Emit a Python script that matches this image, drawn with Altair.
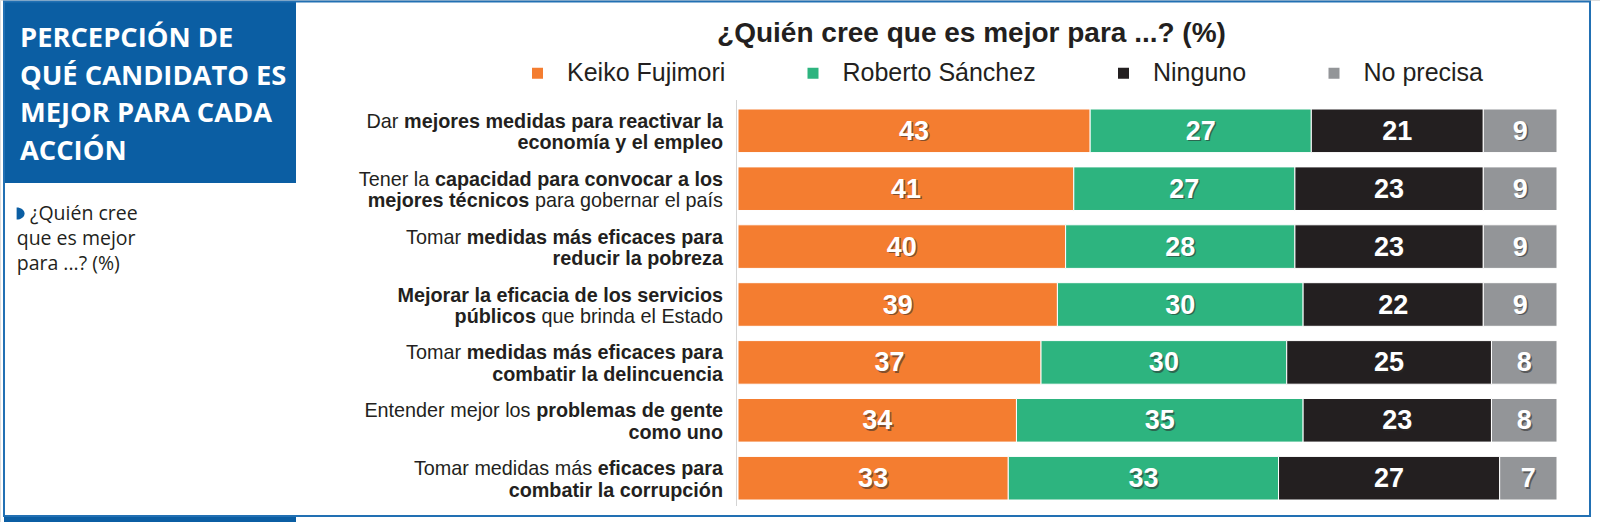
import altair as alt
import pandas as pd

# ---------------- data ----------------
series = ["Keiko Fujimori", "Roberto Sánchez", "Ninguno", "No precisa"]
colors = ["#F47D30", "#2DB47F", "#231F20", "#939598"]

categories = ["economia", "tecnicos", "pobreza", "servicios", "delincuencia", "gente", "corrupcion"]
label_line1 = [
    "Dar **mejores medidas para reactivar la**",
    "Tener la **capacidad para convocar a los**",
    "Tomar **medidas más eficaces para**",
    "**Mejorar la eficacia de los servicios**",
    "Tomar **medidas más eficaces para**",
    "Entender mejor los **problemas de gente**",
    "Tomar medidas más **eficaces para**",
]
label_line2 = [
    "**economía y el empleo**",
    "**mejores técnicos** para gobernar el país",
    "**reducir la pobreza**",
    "**públicos** que brinda el Estado",
    "**combatir la delincuencia**",
    "**como uno**",
    "**combatir la corrupción**",
]
keiko = [43, 41, 40, 39, 37, 34, 33]
sanchez = [27, 27, 28, 30, 30, 35, 33]
ninguno = [21, 23, 23, 22, 25, 23, 27]
no_precisa = [9, 9, 9, 9, 8, 8, 7]

panel_title = ["PERCEPCIÓN DE", "QUÉ CANDIDATO ES", "MEJOR PARA CADA", "ACCIÓN"]
panel_sub_first = "¿Quién cree"
panel_sub_rest = ["que es mejor", "para ...? (%)"]
chart_title = "¿Quién cree que es mejor para ...? (%)"

# ---------------- styles ----------------
BLUE = "#0B5EA3"
BORDER = "#2270B3"
TEXT = "#231F20"
LABEL_FONT = "Liberation Sans"
LABEL_SIZE = 19.8
LABEL_RIGHT = 723

# Helvetica / Arial advance widths (1/1000 em) for mixed-weight label layout
_lower = "abcdefghijklmnopqrstuvwxyz"
W_REG = dict(zip(_lower, [556, 556, 500, 556, 556, 278, 556, 556, 222, 222, 500, 222, 833,
                          556, 556, 556, 556, 333, 500, 278, 556, 500, 722, 500, 500, 500]))
W_BOLD = dict(zip(_lower, [556, 611, 556, 611, 556, 333, 611, 611, 278, 278, 556, 278, 889,
                           611, 611, 611, 611, 389, 556, 333, 611, 556, 778, 556, 556, 500]))
for d in (W_REG, W_BOLD):
    d.update({" ": 278, "D": 722, "E": 667, "M": 833, "T": 611, "á": 556, "é": 556, "í": 278})
W_REG.update({"ó": 556, "ú": 556})
W_BOLD.update({"ó": 611, "ú": 611})


def char_w(ch, bold):
    d = W_BOLD if bold else W_REG
    return d.get(ch, 556) * LABEL_SIZE / 1000.0


def layout_line(cat, line_no, text):
    parts = text.split("**")
    chars = []
    for i, p in enumerate(parts):
        for ch in p:
            chars.append((ch, i % 2 == 1))
    rows = []
    idx = 0
    for i, p in enumerate(parts):
        start, end = idx, idx + len(p)
        idx = end
        piece = p.strip()
        if not piece:
            continue
        trail = len(p) - len(p.rstrip())
        vis_end = end - trail
        after = sum(char_w(c, b) for c, b in chars[vis_end:])
        rows.append({"cat": cat, "line": line_no, "bold": i % 2 == 1,
                     "text": piece, "xr": LABEL_RIGHT - after})
    return rows


label_rows = []
for c, l1, l2 in zip(categories, label_line1, label_line2):
    label_rows += layout_line(c, 1, l1)
    label_rows += layout_line(c, 2, l2)
labels_df = pd.DataFrame(label_rows)

bar_rows = []
for i, c in enumerate(categories):
    for j, (s, vals) in enumerate(zip(series, [keiko, sanchez, ninguno, no_precisa])):
        bar_rows.append({"cat": c, "series": s, "value": vals[i], "order": j})
bars_df = pd.DataFrame(bar_rows)

one = pd.DataFrame({"k": [0]})

xscale = alt.Scale(domain=[0, 100], range=[738, 1557], nice=False, zero=False)
yscale = alt.Scale(domain=categories, range=[109, 500], paddingInner=0.247, paddingOuter=0)

# ---------------- decorations ----------------
panel_box = alt.Chart(one).mark_rect(color=BLUE).encode(
    x=alt.value(4), x2=alt.value(296), y=alt.value(2), y2=alt.value(183))
bottom_strip = alt.Chart(one).mark_rect(color=BLUE).encode(
    x=alt.value(4), x2=alt.value(296), y=alt.value(515), y2=alt.value(522))
border = alt.Chart(one).mark_rect(fillOpacity=0, stroke=BORDER, strokeWidth=2).encode(
    x=alt.value(4), x2=alt.value(1590), y=alt.value(1.5), y2=alt.value(516))
axis_line = alt.Chart(one).mark_rule(color="#D4D4D4", strokeWidth=1).encode(
    x=alt.value(736.5), y=alt.value(100), y2=alt.value(506))

panel_title_t = alt.Chart(one).mark_text(
    align="left", baseline="alphabetic", font="Open Sans", fontWeight="bold",
    fontSize=27.3, color="white", lineHeight=37.5
).encode(x=alt.value(20), y=alt.value(47), text=alt.value(panel_title))

marker = alt.Chart(one).mark_point(
    shape="M-0.65,-1 A1.3,1 0 0 1 -0.65,1 Z", filled=True, size=150, color=BLUE, opacity=1
).encode(x=alt.value(20.6), y=alt.value(213.5))

sub1 = alt.Chart(one).mark_text(
    align="left", baseline="alphabetic", font="Open Sans", fontSize=19.5, color=TEXT
).encode(x=alt.value(30), y=alt.value(219.5), text=alt.value(panel_sub_first))
sub2 = alt.Chart(one).mark_text(
    align="left", baseline="alphabetic", font="Open Sans", fontSize=19.5, color=TEXT, lineHeight=25.4
).encode(x=alt.value(16.7), y=alt.value(245), text=alt.value(panel_sub_rest))

title_t = alt.Chart(one).mark_text(
    align="center", baseline="alphabetic", font=LABEL_FONT, fontWeight="bold",
    fontSize=28, color=TEXT
).encode(x=alt.value(971.5), y=alt.value(42.3), text=alt.value(chart_title))

# ---------------- bars ----------------
stacked = alt.Chart(bars_df).transform_stack(
    stack="value", as_=["x0", "x1"], groupby=["cat"],
    sort=[alt.SortField("order", order="ascending")]
).transform_calculate(mid="(datum.x0 + datum.x1) / 2")

bars = stacked.mark_bar(stroke="white", strokeWidth=1).encode(
    x=alt.X("x0:Q", scale=xscale, axis=None),
    x2="x1:Q",
    y=alt.Y("cat:N", scale=yscale, axis=None),
    color=alt.Color(
        "series:N",
        scale=alt.Scale(domain=series, range=colors),
        legend=alt.Legend(
            title=None, orient="none", legendX=525, legendY=60.5,
            direction="horizontal", columns=4, symbolType="square",
            symbolSize=121, symbolStrokeWidth=0, labelFont=LABEL_FONT,
            labelFontSize=25, labelColor=TEXT, labelOffset=17,
            columnPadding=74.5, labelLimit=400, padding=0,
        ),
    ),
    order=alt.Order("order:Q"),
)

num_shadow = stacked.mark_text(
    font=LABEL_FONT, fontWeight="bold", fontSize=27, color="#2a2a2a", opacity=0.55,
    baseline="middle", align="center", dx=1.5, dy=2.5
).encode(
    x=alt.X("mid:Q", scale=xscale, axis=None),
    y=alt.Y("cat:N", scale=yscale, axis=None),
    text="value:Q",
)
nums = stacked.mark_text(
    font=LABEL_FONT, fontWeight="bold", fontSize=27, color="white",
    baseline="middle", align="center", dy=1
).encode(
    x=alt.X("mid:Q", scale=xscale, axis=None),
    y=alt.Y("cat:N", scale=yscale, axis=None),
    text="value:Q",
)

# ---------------- row labels (mixed weight) ----------------
label_layers = []
for line_no, dy in [(1, -3), (2, 18.7)]:
    for bold in (False, True):
        sub = labels_df[(labels_df["line"] == line_no) & (labels_df["bold"] == bold)]
        if sub.empty:
            continue
        label_layers.append(
            alt.Chart(sub).mark_text(
                align="right", baseline="alphabetic", font=LABEL_FONT,
                fontSize=LABEL_SIZE, fontWeight="bold" if bold else "normal",
                color=TEXT, dy=dy
            ).encode(
                x=alt.X("xr:Q", scale=None, axis=None),
                y=alt.Y("cat:N", scale=yscale, axis=None),
                text="text:N",
            )
        )

chart = alt.layer(
    panel_box, bottom_strip, border, axis_line, panel_title_t, marker, sub1, sub2,
    title_t, bars, num_shadow, nums, *label_layers
).resolve_scale(x="independent").properties(
    width=1600, height=522, padding=0,
    autosize=alt.AutoSizeParams(type="none"),
).configure_view(strokeWidth=0).configure(background="white")

chart.save("out.html", embed_options={"renderer": "svg", "actions": False})
